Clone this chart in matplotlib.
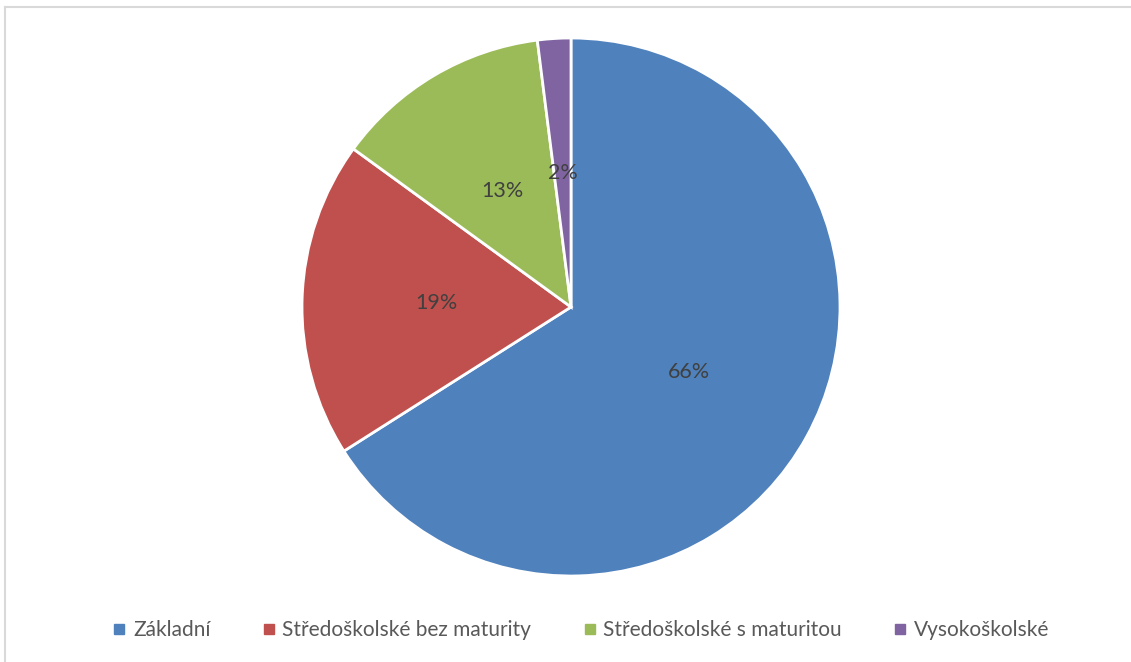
import matplotlib as mpl
mpl.use('Agg')
import matplotlib.pyplot as plt
from matplotlib.lines import Line2D

# data
categories = ["Základní", "Středoškolské bez maturity", "Středoškolské s maturitou", "Vysokoškolské"]
shares = [66, 19, 13, 2]
colors = ["#4F81BD", "#C0504D", "#9BBB59", "#8064A2"]

plt.rcParams['font.family'] = ['Lato', 'DejaVu Sans']

W, H = 1131, 662
fig = plt.figure(figsize=(W / 100, H / 100), dpi=100)

# pie centre and radius in pixels
cx, cy, r = 571, 307, 269
ax = fig.add_axes([(cx - r) / W, (H - cy - r) / H, 2 * r / W, 2 * r / H])

wedges, texts, autotexts = ax.pie(
	shares, colors=colors, startangle=90, counterclock=False,
	autopct='%.0f%%', pctdistance=0.5, radius=1,
	wedgeprops=dict(edgecolor='white', linewidth=2.0),
	textprops=dict(color='#404040', fontsize=15.5))
ax.set_xlim(-1, 1)
ax.set_ylim(-1, 1)
ax.set_aspect('equal')
ax.axis('off')

# legend at bottom
handles = [Line2D([], [], marker='s', linestyle='', markersize=7,
				  markerfacecolor=c, markeredgecolor=c) for c in colors]
fig.legend(handles, categories, loc='center', bbox_to_anchor=(580 / W, 1 - 630 / H),
		   ncol=4, frameon=False, fontsize=15, labelcolor='#595959',
		   handletextpad=0.25, columnspacing=2.4, handlelength=0.8)

# chart area border (top and left visible)
fig.add_artist(Line2D([5 / W, 1], [1 - 7 / H, 1 - 7 / H], color='#D9D9D9', linewidth=1.5))
fig.add_artist(Line2D([5 / W, 5 / W], [0, 1 - 7 / H], color='#D9D9D9', linewidth=1.5))

fig.savefig("out.png", dpi=100)
